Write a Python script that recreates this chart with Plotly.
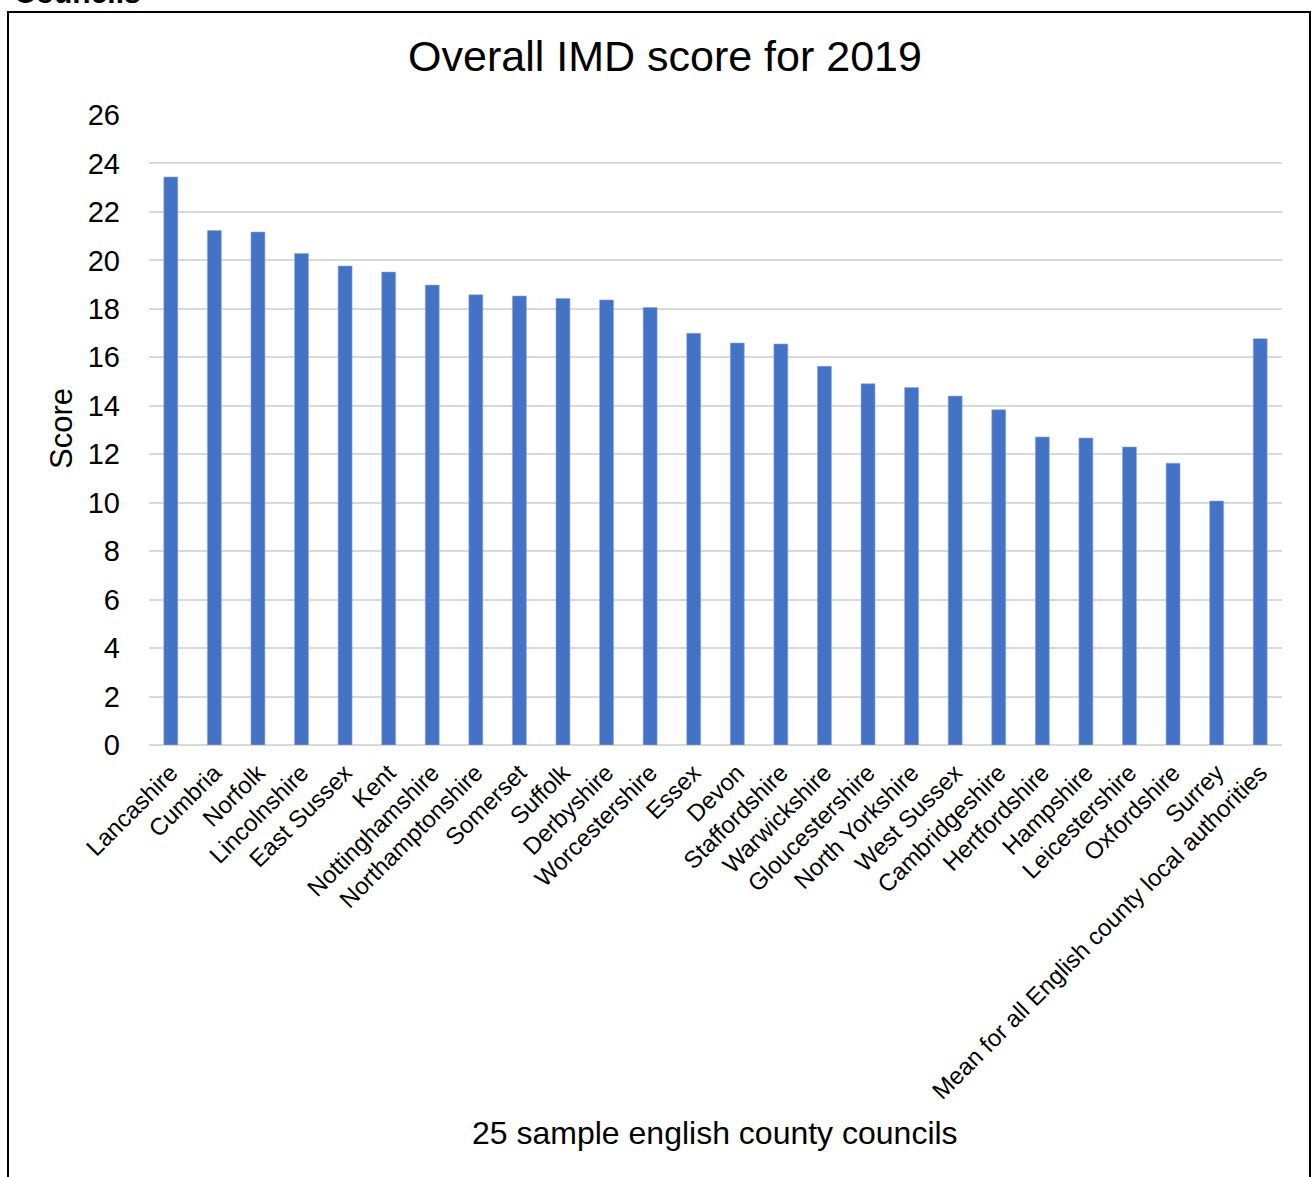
import plotly.graph_objects as go

categories = ["Lancashire", "Cumbria", "Norfolk", "Lincolnshire", "East Sussex", "Kent",
              "Nottinghamshire", "Northamptonshire", "Somerset", "Suffolk", "Derbyshire",
              "Worcestershire", "Essex", "Devon", "Staffordshire", "Warwickshire",
              "Gloucestershire", "North Yorkshire", "West Sussex", "Cambridgeshire",
              "Hertfordshire", "Hampshire", "Leicestershire", "Oxfordshire", "Surrey",
              "Mean for all English county local authorities"]
scores = [23.44, 21.23, 21.17, 20.28, 19.77, 19.52, 18.98, 18.58, 18.53, 18.43, 18.37,
          18.06, 16.99, 16.59, 16.55, 15.63, 14.91, 14.75, 14.40, 13.84, 12.71, 12.67,
          12.30, 11.63, 10.07, 16.77]
y_ticks = list(range(0, 27, 2))

W, H = 1312, 1177
L, R, T, B = 149, 1282, 115, 745
pw, ph = R - L, B - T

def px(x):
    return (x - L) / pw

def py(y):
    return (B - y) / ph

FONT = "Liberation Sans, Arial, sans-serif"

fig = go.Figure(go.Bar(
    x=categories, y=scores, width=0.32,
    marker=dict(color="#4472C4", line=dict(color="#8faadc", width=0.6)),
))

fig.update_layout(
    width=W, height=H,
    margin=dict(l=L, r=W - R, t=T, b=H - B, autoexpand=False),
    paper_bgcolor="white", plot_bgcolor="white",
    font=dict(family=FONT, color="black"),
    showlegend=False,
    title=dict(text="Overall IMD score for 2019", font=dict(size=43, family=FONT, color="black"),
               x=665 / W, xref="container", xanchor="center",
               y=1 - 56 / H, yref="container", yanchor="middle"),
    xaxis=dict(
        tickangle=-45, tickfont=dict(size=24, family=FONT, color="black"),
        showgrid=False, showline=False, zeroline=False, ticks="",
        automargin=False, ticklabelstandoff=8,
    ),
    yaxis=dict(
        range=[0, 26], tickvals=y_ticks,
        tickfont=dict(size=29, family=FONT, color="black"),
        showgrid=True, gridcolor="#d9d9d9", gridwidth=1.5,
        zeroline=True, zerolinecolor="#d9d9d9", zerolinewidth=1.5,
        showline=False, ticks="", automargin=False, ticklabelstandoff=28,
    ),
)

# Chart frame border
fig.add_shape(type="rect", xref="paper", yref="paper",
              x0=px(8), x1=px(1310), y0=py(1195), y1=py(12),
              line=dict(color="black", width=2), fillcolor="rgba(0,0,0,0)", layer="above")

# Axis titles
fig.add_annotation(text="25 sample english county councils", xref="paper", yref="paper",
                   x=px(715), y=py(1133), xanchor="center", yanchor="middle",
                   showarrow=False, font=dict(size=32, family=FONT, color="black"))
fig.add_annotation(text="Score", xref="paper", yref="paper", textangle=-90,
                   x=px(61), y=py(429), xanchor="center", yanchor="middle",
                   showarrow=False, font=dict(size=31, family=FONT, color="black"))
# Heading above the frame, cut off at the top edge as in the reference
fig.add_annotation(text="<b>Councils</b>", xref="paper", yref="paper",
                   x=px(12), y=py(11), xanchor="left", yanchor="bottom",
                   showarrow=False, font=dict(size=30, family=FONT, color="black"))

fig.write_html(
    "out.html",
    config={"displayModeBar": False},
    post_script="document.body.style.margin='0';document.body.style.overflow='hidden';",
)
